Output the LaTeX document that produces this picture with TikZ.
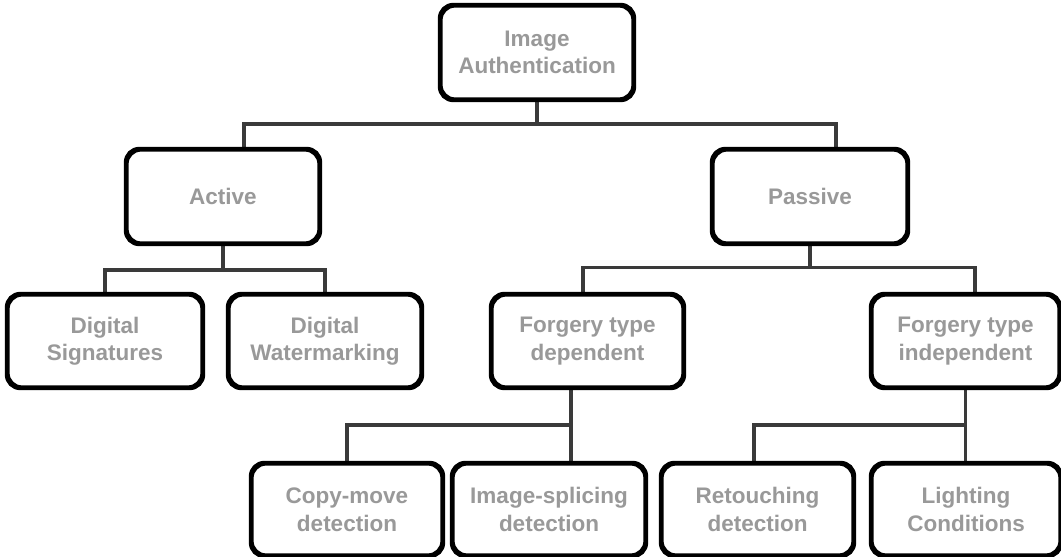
\documentclass[tikz,border=0pt]{standalone}
\usepackage{fontspec}
\setmainfont{Liberation Sans}
\usetikzlibrary{calc}
\definecolor{labelgray}{HTML}{999999}
\definecolor{linkgray}{HTML}{3A3A3A}
\begin{document}
\begin{tikzpicture}[x=1pt,y=-1pt,
  box/.style={draw=black, line width=3.2pt, rounded corners=14pt, fill=white,
    align=center, inner sep=0pt, text=labelgray,
    font=\fontsize{22.5}{27.5}\selectfont\bfseries},
  conn/.style={draw=linkgray, line width=3.4pt}]
\useasboundingbox (0,0) rectangle (1061,557);

% tree nodes
\node[box, minimum width=192pt, minimum height=93pt] (top) at (537,52.5) {Image\\Authentication};
\node[box, minimum width=192pt, minimum height=93pt] (active) at (223,196.5) {Active};
\node[box, minimum width=194pt, minimum height=93pt] (passive) at (810,196.5) {Passive};
\node[box, minimum width=194pt, minimum height=92pt] (dsig) at (105,341) {Digital\\Signatures};
\node[box, minimum width=192pt, minimum height=92pt] (dwat) at (325,341) {Digital\\Watermarking};
\node[box, minimum width=191pt, minimum height=92pt] (fdep) at (587.5,341) {Forgery type\\dependent};
\node[box, minimum width=187pt, minimum height=92pt] (find) at (965.5,341) {Forgery type\\independent};
\node[box, minimum width=190pt, minimum height=91pt] (copy) at (347,509.5) {Copy-move\\detection};
\node[box, minimum width=192pt, minimum height=91pt] (splice) at (549,509.5) {Image-splicing\\detection};
\node[box, minimum width=191pt, minimum height=91pt] (retouch) at (757.5,509.5) {Retouching\\detection};
\node[box, minimum width=188pt, minimum height=91pt] (light) at (966,509.5) {Lighting\\Conditions};

% bus heights
\coordinate (b1) at (0,124);
\coordinate (b2) at (0,270);
\coordinate (b3) at (0,267.5);
\coordinate (b4) at (0,425);

% connectors
\draw[conn] (top.south) -- (top.south |- b1) -| ([xshift=21pt]active.north);
\draw[conn] (top.south |- b1) -| ([xshift=26pt]passive.north);

\draw[conn] (active.south) -- (active.south |- b2) -| (dsig.north);
\draw[conn] (active.south |- b2) -| (dwat.north);

\draw[conn] (passive.south) -- (passive.south |- b3) -| ([xshift=-4.5pt]fdep.north);
\draw[conn] (passive.south |- b3) -| ([xshift=9.5pt]find.north);

\draw[conn] ([xshift=-16.5pt]fdep.south) -- ([xshift=-16.5pt]fdep.south |- splice.north);
\draw[conn] ([xshift=-16.5pt]fdep.south |- b4) -| (copy.north);

\draw[conn] (find.south) -- (find.south |- light.north);
\draw[conn] (find.south |- b4) -| ([xshift=-3.5pt]retouch.north);

% redraw node borders above connector ends
\foreach \n in {top,active,passive,dsig,dwat,fdep,find,copy,splice,retouch,light}
  \draw[black, line width=3.2pt, rounded corners=14pt] (\n.north west) rectangle (\n.south east);
\end{tikzpicture}
\end{document}
